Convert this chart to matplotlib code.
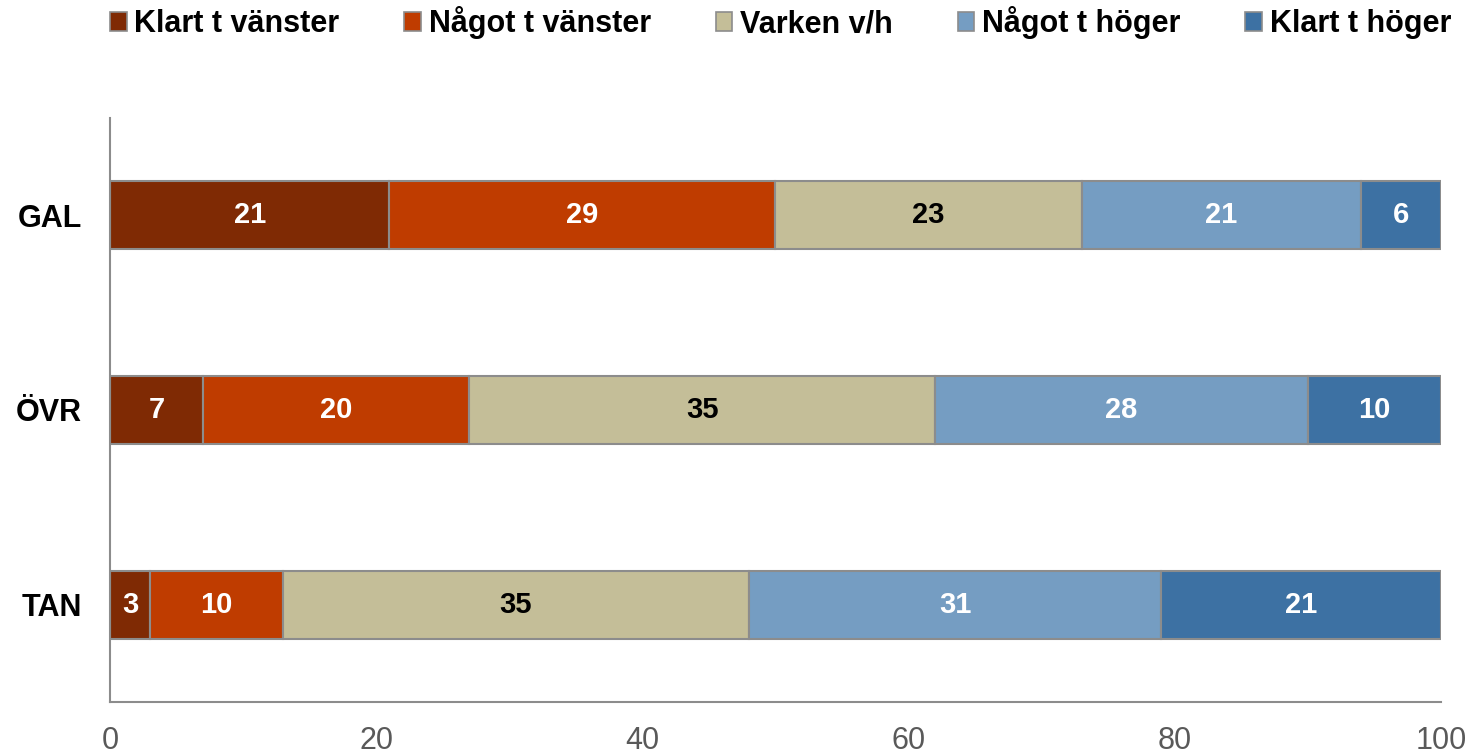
import numpy as np
import matplotlib.pyplot as plt
from matplotlib.patches import Patch

plt.rcParams['font.family'] = ['Liberation Sans', 'DejaVu Sans']

groups = ['GAL', 'ÖVR', 'TAN']
series = ['Klart t vänster', 'Något t vänster', 'Varken v/h', 'Något t höger', 'Klart t höger']
values = {
    'Klart t vänster': [21, 7, 3],
    'Något t vänster': [29, 20, 10],
    'Varken v/h': [23, 35, 35],
    'Något t höger': [21, 28, 31],
    'Klart t höger': [6, 10, 21],
}
colors = ['#7F2A04', '#BF3C00', '#C4BE98', '#759DC2', '#3D71A3']
label_colors = ['white', 'white', 'black', 'white', 'white']

fig = plt.figure(figsize=(14.74, 7.54), dpi=100)
ax = fig.add_axes([0.0746, 0.069, 0.903, 0.7745])

y = np.arange(len(groups))
left = np.zeros(len(groups))
for s, c, lc in zip(series, colors, label_colors):
    v = np.array(values[s], dtype=float)
    ax.barh(y, v, left=left, height=0.35, color=c, edgecolor='#8c8c8c', linewidth=1.5)
    for yi, (l, w) in enumerate(zip(left, v)):
        ax.text(l + w / 2, yi, f'{int(w)}', ha='center', va='center',
                color=lc, fontsize=21, fontweight='bold')
    left += v

ax.set_xlim(0, 100)
ax.set_ylim(2.5, -0.5)
ax.set_yticks(y)
ax.set_yticklabels(groups, fontsize=22, fontweight='bold')
ax.set_xticks([0, 20, 40, 60, 80, 100])
ax.tick_params(axis='x', length=0, labelsize=22, labelcolor='#595959', pad=17)
ax.tick_params(axis='y', length=0, pad=20)
for sp in ['top', 'right']:
    ax.spines[sp].set_visible(False)
for sp in ['left', 'bottom']:
    ax.spines[sp].set_color('#8c8c8c')
    ax.spines[sp].set_linewidth(1.5)

handles = [Patch(facecolor=c, edgecolor='#8c8c8c', linewidth=1.2) for c in colors]
fig.legend(handles, series, loc='upper center', bbox_to_anchor=(0.5295, 1.028), ncol=5,
           frameon=False, prop={'size': 22, 'weight': 'bold'},
           handlelength=0.55, handleheight=0.55, handletextpad=0.25, columnspacing=2.12)

fig.savefig('out.png', dpi=100)
